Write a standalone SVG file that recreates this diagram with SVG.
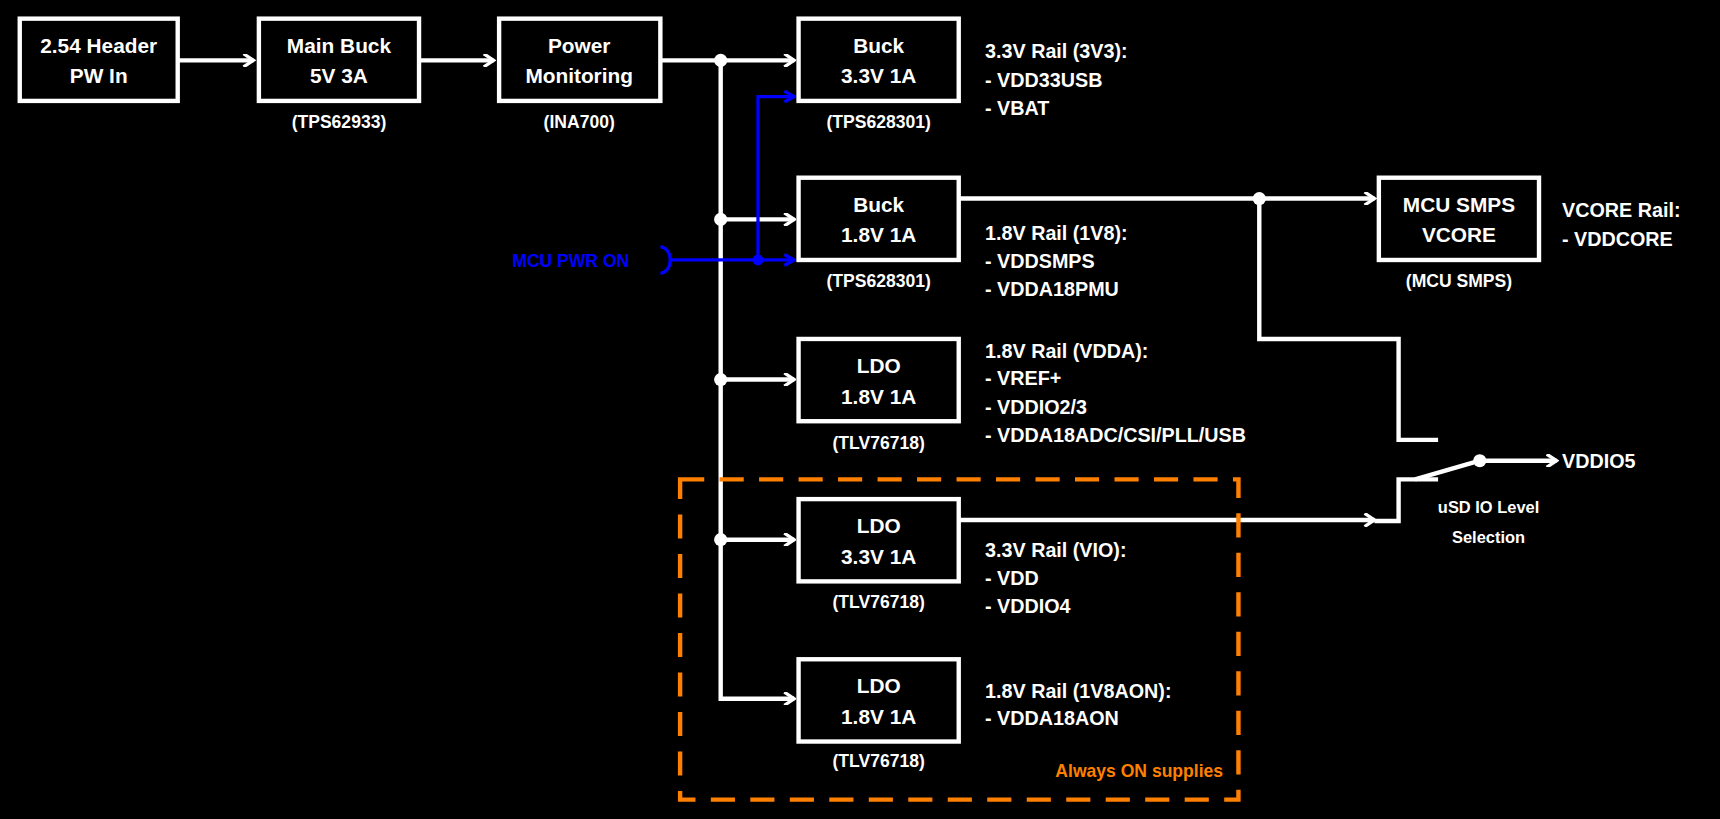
<svg xmlns="http://www.w3.org/2000/svg" width="1720" height="819" viewBox="0 0 1720 819">
<style>
.b{fill:#000;stroke:#fff;stroke-width:4}
.t{font-family:"Liberation Sans",Arial,sans-serif;font-weight:bold;fill:#fff}
.c{font-size:19px;text-anchor:middle}
.s{font-size:16px;text-anchor:middle}
.r{font-size:18px}
.w{fill:none;stroke:#fff;stroke-width:4}
.u{fill:none;stroke:#0000ff;stroke-width:3}
</style>
<defs>
<marker id="a" markerWidth="12" markerHeight="12" refX="10" refY="6" orient="auto" markerUnits="userSpaceOnUse"><path d="M1,0 L10,6 L1,12" fill="none" stroke="#fff" stroke-width="3"/></marker>
<marker id="ab" markerWidth="12" markerHeight="12" refX="10" refY="6" orient="auto" markerUnits="userSpaceOnUse"><path d="M1,1 L10,6 L1,11" fill="none" stroke="#0000ff" stroke-width="3"/></marker>
</defs>
<rect width="1720" height="819" fill="#000"/>
<g transform="scale(1.09694)">
<g id="connectors">
<path class="w" d="M162,55 H231" marker-end="url(#a)"/>
<path class="w" d="M382,55 H450" marker-end="url(#a)"/>
<path class="w" d="M602,55 H724" marker-end="url(#a)"/>
<path class="w" d="M657,55 V637 H724" marker-end="url(#a)"/>
<path class="w" d="M657,200 H724" marker-end="url(#a)"/>
<path class="w" d="M657,346 H724" marker-end="url(#a)"/>
<path class="w" d="M657,492 H724" marker-end="url(#a)"/>
<circle cx="657" cy="55" r="6" fill="#fff"/>
<circle cx="657" cy="200" r="6" fill="#fff"/>
<circle cx="657" cy="346" r="6" fill="#fff"/>
<circle cx="657" cy="492" r="6" fill="#fff"/>
<path class="u" d="M612,237 H724" marker-end="url(#ab)"/>
<path class="u" d="M691,237 V88 H724" marker-end="url(#ab)"/>
<path class="u" d="M602,225 A9,12 0 0 1 602,249"/>
<circle cx="691" cy="237" r="5" fill="#0000ff"/>
<path class="w" d="M874,181 H1253" marker-end="url(#a)"/>
<circle cx="1148" cy="181" r="6" fill="#fff"/>
<path class="w" d="M1148,181 V309 H1275 V401 H1311"/>
<path class="w" d="M874,474 H1253" marker-end="url(#a)"/>
<path class="w" d="M1253,475 H1275 V437 H1311"/>
<path class="w" d="M1290,437 L1349,420"/>
<circle cx="1349" cy="420" r="6" fill="#fff"/>
<path class="w" d="M1349,420 H1419" marker-end="url(#a)"/>
</g>
<g id="header"><rect class="b" x="18" y="17" width="144" height="75"/><text class="t c" x="90" y="48">2.54 Header</text><text class="t c" x="90" y="76">PW In</text></g>
<g id="mainbuck"><rect class="b" x="236" y="17" width="146" height="75"/><text class="t c" x="309" y="48">Main Buck</text><text class="t c" x="309" y="76">5V 3A</text><text class="t s" x="309" y="117">(TPS62933)</text></g>
<g id="pmon"><rect class="b" x="455" y="17" width="147" height="75"/><text class="t c" x="528" y="48">Power</text><text class="t c" x="528" y="76">Monitoring</text><text class="t s" x="528" y="117">(INA700)</text></g>
<g id="buck33"><rect class="b" x="728" y="17" width="146" height="75"/><text class="t c" x="801" y="48">Buck</text><text class="t c" x="801" y="76">3.3V 1A</text><text class="t s" x="801" y="117">(TPS628301)</text></g>
<g id="buck18"><rect class="b" x="728" y="162" width="146" height="75"/><text class="t c" x="801" y="193">Buck</text><text class="t c" x="801" y="221">1.8V 1A</text><text class="t s" x="801" y="262">(TPS628301)</text></g>
<g id="ldo18"><rect class="b" x="728" y="309" width="146" height="75"/><text class="t c" x="801" y="340">LDO</text><text class="t c" x="801" y="368">1.8V 1A</text><text class="t s" x="801" y="409">(TLV76718)</text></g>
<g id="ldo33"><rect class="b" x="728" y="455" width="146" height="75"/><text class="t c" x="801" y="486">LDO</text><text class="t c" x="801" y="514">3.3V 1A</text><text class="t s" x="801" y="554">(TLV76718)</text></g>
<g id="ldoaon"><rect class="b" x="728" y="601" width="146" height="75"/><text class="t c" x="801" y="632">LDO</text><text class="t c" x="801" y="660">1.8V 1A</text><text class="t s" x="801" y="699">(TLV76718)</text></g>
<g id="mcusmps"><rect class="b" x="1257" y="162" width="146" height="75"/><text class="t c" x="1330" y="193">MCU SMPS</text><text class="t c" x="1330" y="221">VCORE</text><text class="t s" x="1330" y="262">(MCU SMPS)</text></g>
<g id="texts">
<text class="t" x="467" y="243" style="font-size:16px;fill:#0000ff">MCU PWR ON</text>
<text class="t r" x="898" y="53">3.3V Rail (3V3):</text><text class="t r" x="898" y="79">- VDD33USB</text><text class="t r" x="898" y="105">- VBAT</text>
<text class="t r" x="898" y="219">1.8V Rail (1V8):</text><text class="t r" x="898" y="244">- VDDSMPS</text><text class="t r" x="898" y="270">- VDDA18PMU</text>
<text class="t r" x="898" y="326">1.8V Rail (VDDA):</text><text class="t r" x="898" y="351">- VREF+</text><text class="t r" x="898" y="377">- VDDIO2/3</text><text class="t r" x="898" y="403">- VDDA18ADC/CSI/PLL/USB</text>
<text class="t r" x="898" y="508">3.3V Rail (VIO):</text><text class="t r" x="898" y="533">- VDD</text><text class="t r" x="898" y="559">- VDDIO4</text>
<text class="t r" x="898" y="636">1.8V Rail (1V8AON):</text><text class="t r" x="898" y="661">- VDDA18AON</text>
<text class="t r" x="1424" y="198">VCORE Rail:</text><text class="t r" x="1424" y="224">- VDDCORE</text>
<text class="t r" x="1424" y="427">VDDIO5</text>
<text class="t s" x="1357" y="468" style="font-size:15px">uSD IO Level</text><text class="t s" x="1357" y="495" style="font-size:15px">Selection</text>
</g>
<g id="aon">
<rect x="620" y="437" width="509" height="292" fill="none" stroke="#ff8000" stroke-width="4" stroke-dasharray="22,14"/>
<text class="t" x="1115" y="708" style="font-size:16px;fill:#ff8000;text-anchor:end">Always ON supplies</text>
</g>
</g>
</svg>
